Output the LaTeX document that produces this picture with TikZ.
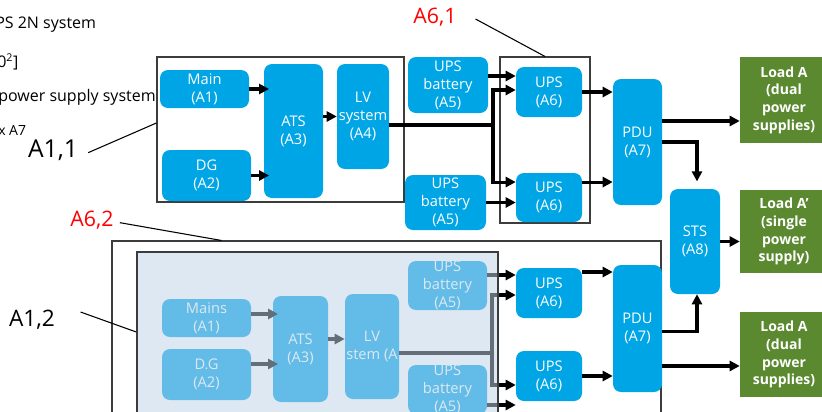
\documentclass[tikz,border=0pt]{standalone}
\usepackage{fontspec}
\setmainfont{Open Sans}
\usetikzlibrary{arrows.meta,calc}

\definecolor{upsblue}{RGB}{0,165,230}
\definecolor{loadgreen}{RGB}{90,137,48}
\definecolor{veilblue}{RGB}{190,211,232}
\definecolor{framegray}{RGB}{60,60,60}

\begin{document}
\begin{tikzpicture}[
    x=0.75pt, y=-0.75pt,
    font=\fontsize{11}{13.5}\selectfont,
    arr/.style={-{Triangle[length=7.5pt,width=7.5pt]}, line width=2.3pt},
    wire/.style={line width=2.3pt},
    frame/.style={draw=framegray, line width=0.8pt, inner sep=0pt},
    box/.style={fill=upsblue, text=white, rounded corners=6pt, align=center, inner sep=0pt},
    load/.style={fill=loadgreen, text=white, align=center, inner sep=0pt, minimum width=66pt,
        font=\fontsize{10.5}{13.3}\selectfont\bfseries},
    veil/.style={draw=framegray, line width=1.1pt, fill=veilblue, fill opacity=0.52, inner sep=0pt},
    lead/.style={line width=0.8pt},
    tag/.style={inner sep=0pt, font=\fontsize{17}{20}\selectfont},
    redtag/.style={tag, text=red, font=\fontsize{16}{19}\selectfont},
    cuttext/.style={anchor=west, inner sep=0pt, font=\fontsize{12}{14}\selectfont}
]
\useasboundingbox (0,0) rectangle (822,411);

% ---------------------------------------------------------
% frames (drawn first, boxes sit on top)
% ---------------------------------------------------------
\node[frame, minimum width=411.75pt, minimum height=141.75pt] (f62) at (386.5,335.5) {};
\node[frame, minimum width=185.25pt, minimum height=108.75pt] (f11) at (280.5,129.5) {};
\node[frame, minimum width=67.5pt, minimum height=124.5pt] (f61) at (545,140) {};

% ---------------------------------------------------------
% upper chain
% ---------------------------------------------------------
\node[box, minimum width=66.75pt, minimum height=28.5pt] (main) at (204.5,89) {Main\\(A1)};
\node[box, minimum width=66.75pt, minimum height=38.25pt] (dg) at (206.5,175.5) {DG\\(A2)};
\node[box, minimum width=44.25pt, minimum height=100.5pt] (ats) at (293.5,131) {ATS\\(A3)};
\node[box, minimum width=39pt, minimum height=78.75pt] (lv) at (363,116.5) {LV\\system\\(A4)};
\node[box, minimum width=60pt, minimum height=42pt] (batA) at (448,85) {UPS\\battery\\(A5)};
\node[box, minimum width=60.75pt, minimum height=41.25pt] (batB) at (445.5,202.5) {UPS\\battery\\(A5)};
\node[box, minimum width=49.5pt, minimum height=37.5pt] (upsA) at (549,92) {UPS\\(A6)};
\node[box, minimum width=49.5pt, minimum height=36.75pt] (upsB) at (549,197.5) {UPS\\(A6)};
\node[box, minimum width=36.75pt, minimum height=94.5pt] (pduA) at (637.5,142) {PDU\\(A7)};
\node[box, minimum width=37.5pt, minimum height=78.75pt] (sts) at (695,241.5) {STS\\(A8)};

\node[load, minimum height=64.5pt] (loadA) at (784,100) {Load A\\(dual\\power\\supplies)};
\node[load, minimum height=62.25pt] (loadB) at (784,231.5) {Load A'\\(single\\power\\supply)};
\node[load, minimum height=63.75pt] (loadC) at (784,354.5) {Load A\\(dual\\power\\supplies)};

% ---------------------------------------------------------
% lower chain
% ---------------------------------------------------------
\node[box, minimum width=66.75pt, minimum height=28.5pt] (mains) at (206.5,318) {Mains\\(A1)};
\node[box, minimum width=66.75pt, minimum height=38.25pt] (dg2) at (206.5,374.5) {D.G\\(A2)};
\node[box, minimum width=41.25pt, minimum height=79.5pt] (ats2) at (300.5,349) {ATS\\(A3)};
\node[box, minimum width=40.5pt, minimum height=78.75pt] (lv2) at (372,346.5) {LV\\stem (A};
\node[box, minimum width=59.25pt, minimum height=36.75pt] (batC) at (447.5,285.5) {UPS\\battery\\(A5)};
\node[box, minimum width=59.25pt, minimum height=36.75pt] (batD) at (447.5,389.5) {UPS\\battery\\(A5)};
\node[box, minimum width=49.5pt, minimum height=37.5pt] (ups2a) at (549,293) {UPS\\(A6)};
\node[box, minimum width=49.5pt, minimum height=37.5pt] (ups2b) at (549,376) {UPS\\(A6)};
\node[box, minimum width=36.75pt, minimum height=95.25pt] (pdu2) at (637.5,328.5) {PDU\\(A7)};

% upper connections
\draw[arr, shorten >=-4pt] (main.east) -- (main.east -| ats.west);
\draw[arr, shorten >=-4pt] (dg.east) -- (dg.east -| ats.west);
\draw[arr] (lv.west -| ats.east) -- (lv.west);
\coordinate (jA) at (493,125);
\draw[wire] (lv.east |- jA) -- (jA);
\draw[arr] (jA) |- ([yshift=1.5pt]upsA.west);
\draw[arr] (jA) |- ([yshift=11.6pt]upsB.west);
\draw[arr] ([yshift=6.75pt]batA.east) -- ([yshift=6.75pt]upsA.west |- batA.east);
\draw[arr] (batB.east) -- (batB.east -| upsB.west);
\draw[arr] (upsA.east) -- (upsA.east -| pduA.west);
\draw[arr] ([yshift=11.6pt]upsB.east) -- ([yshift=11.6pt]pduA.west |- upsB.east);
\draw[arr] ([yshift=15.75pt]pduA.east) -- ([yshift=15.75pt]loadA.west |- pduA.east);
\draw[arr, shorten >=5.5pt] (pduA.east) -| ([xshift=1.5pt]sts.north);
\draw[arr] (sts.east) -- (sts.east -| loadB.west);

% lower connections
\draw[arr, shorten >=-4pt] ([yshift=3pt]mains.east) -- ([yshift=3pt]ats2.west |- mains.east);
\draw[arr, shorten >=-4pt] ([yshift=7.9pt]dg2.east) -- ([yshift=7.9pt]ats2.west |- dg2.east);
\draw[arr] ([yshift=7.5pt]ats2.east) -- ([yshift=7.5pt]lv2.west |- ats2.east);
\coordinate (jB) at (492,353);
\draw[wire] (lv2.east |- jB) -- (jB);
\draw[arr] (jB) |- ([yshift=-1.5pt]ups2a.west);
\draw[arr] (jB) |- ([yshift=-6.75pt]ups2b.west);
\draw[arr] ([yshift=13.5pt]ups2a.west -| batC.east) -- ([yshift=13.5pt]ups2a.west);
\draw[arr] ([yshift=-21.75pt]ups2b.west -| batD.east) -- ([yshift=-21.75pt]ups2b.west);
\draw[arr] ([yshift=15.75pt]ups2a.east) -- ([yshift=15.75pt]pdu2.west |- ups2a.east);
\draw[arr] (ups2b.east) -- (ups2b.east -| pdu2.west);
\draw[arr] ([yshift=-2pt]pdu2.east) -| ([xshift=1.5pt]sts.south);
\draw[arr] ([yshift=-28.1pt]pdu2.east) -- ([yshift=-28.1pt]loadC.west |- pdu2.east);

% faded overlay on the second source chain
\node[veil, minimum width=270.75pt, minimum height=133.5pt] (f12) at (317.5,341) {};

% ---------------------------------------------------------
% tags and leader lines
% ---------------------------------------------------------
\node[tag, font=\fontsize{18.5}{21}\selectfont] (l11) at (53,150) {A1,1};
\node[tag] (l12) at (32,320) {A1,2};
\node[redtag] (l61) at (435,17) {A6,1};
\node[redtag] (l62) at (92,220) {A6,2};
\draw[lead] (l11.east) ++(7.5pt,-2pt) -- ([yshift=4.9pt]f11.west);
\draw[lead] (l61.east) ++(14pt,-1.5pt) -- (f61.north);
\draw[lead] (l62.east) ++(4.5pt,-2pt) -- ($(f62.north west)+(110,0)$);
\draw[lead] (l12.east) ++(19pt,6pt) -- ([yshift=6.75pt]f12.west);

% cut-off text on the left
\node[cuttext] (t1) at (-5,25) {PS 2N system};
\node[cuttext] (t2) at (-3,62) {0\textsuperscript{2}]};
\node[cuttext] (t3) at (-2,97) {power supply system};
\node[cuttext, font=\fontsize{10.5}{12}\selectfont] (t4) at (-2,130) {x A7};

\end{tikzpicture}
\end{document}
